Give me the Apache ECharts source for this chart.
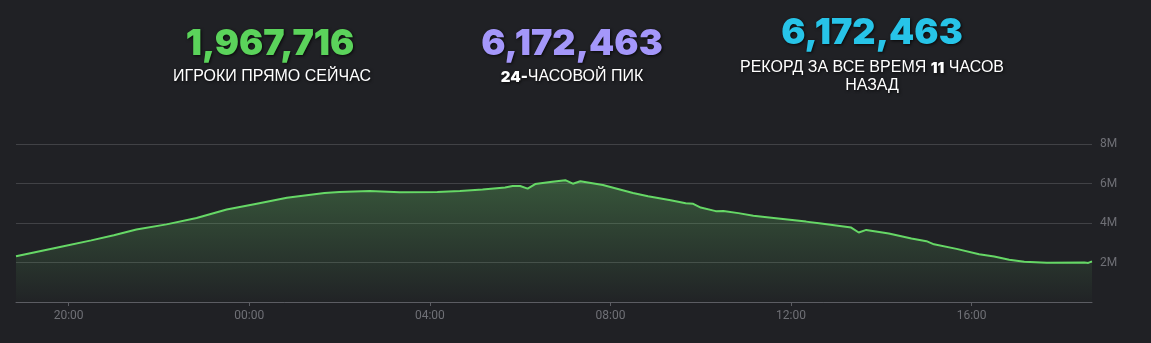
<!DOCTYPE html>
<html>
<head>
<meta charset="utf-8">
<script src="https://cdn.jsdelivr.net/npm/echarts@6/dist/echarts.min.js"></script>
<style>
html,body{margin:0;padding:0;background:#202125;}
#chart{width:1151px;height:343px;}
</style>
</head>
<body>
<div id="chart"></div>
<script>
// ---- data ----
const times = ["18:50","19:20","19:50","20:30","21:00","21:30","22:10","22:50","23:30","00:10","00:50","01:40","02:00","02:40","03:20","04:10","04:40","05:10","05:40","05:50","06:00","06:10","06:20","06:40","07:00","07:10","07:20","07:50","08:10","08:30","08:50","09:20","09:40","09:50","10:00","10:20","10:30","10:50","11:10","11:40","12:20","12:40","13:20","13:30","13:40","14:10","14:40","15:00","15:10","15:40","16:10","16:30","16:50","17:10","17:40","18:30","18:35","18:40"];
const players = [2.32,2.56,2.80,3.12,3.38,3.67,3.93,4.25,4.68,4.98,5.28,5.52,5.57,5.62,5.56,5.57,5.62,5.70,5.80,5.87,5.87,5.74,5.97,6.08,6.17,5.99,6.11,5.92,5.72,5.52,5.35,5.15,5.00,4.97,4.78,4.60,4.61,4.50,4.37,4.24,4.07,3.97,3.77,3.52,3.65,3.47,3.22,3.08,2.92,2.69,2.42,2.30,2.14,2.04,1.99,2.00,1.98,2.06];
const xTickHours = [20,24,28,32,36,40];
const stats = {
  now: "1,967,716",
  peak24: "6,172,463",
  record: "6,172,463"
};
const labelNow = "ИГРОКИ ПРЯМО СЕЙЧАС";
const label24a = "24-", label24b = "ЧАСОВОЙ ПИК";
const labelRecA = "РЕКОРД ЗА ВСЕ ВРЕМЯ ", labelRecN = "11", labelRecB = " ЧАСОВ", labelRec2 = "НАЗАД";

// ---- build ----
let offset = 0, prev = -1;
const seriesData = times.map((t, i) => {
  const [H, M] = t.split(':').map(Number);
  let h = H + M / 60 + offset;
  if (h < prev) { offset = 24; h += 24; }
  prev = h;
  return [h, players[i]];
});
function fmtHour(v) {
  const h = ((Math.round(v) % 24) + 24) % 24;
  return (h < 10 ? '0' : '') + h + ':00';
}
const shadow = {textShadowColor:'rgba(0,0,0,0.75)', textShadowBlur:3, textShadowOffsetX:1, textShadowOffsetY:1};
const bigFont = (c) => Object.assign({fill:c, fontFamily:'Inter', fontWeight:900, fontSize:36, align:'center', verticalAlign:'middle'}, shadow);
const smallFont = Object.assign({fill:'#ffffff', fontFamily:'Liberation Sans, Arial', fontSize:16, align:'center', verticalAlign:'middle'}, shadow);
const boldRich = Object.assign({fontFamily:'Inter', fontWeight:900, fontSize:15, fill:'#ffffff'}, shadow);

const chart = echarts.init(document.getElementById('chart'), null, {renderer:'canvas'});
chart.setOption({
  backgroundColor:'#202125',
  animation:false,
  grid:{left:16, right:59, top:144, bottom:41, containLabel:false},
  xAxis:{
    type:'value', min:'dataMin', max:'dataMax',
    axisLine:{show:true, lineStyle:{color:'#5c5d63', width:1}},
    axisTick:{show:true, length:4, lineStyle:{color:'#5c5d63'}, customValues:xTickHours},
    axisLabel:{color:'#6f7076', fontSize:12, fontFamily:'Roboto, Arial', margin:8, customValues:xTickHours, formatter:fmtHour},
    splitLine:{show:false}
  },
  yAxis:{
    type:'value', position:'right', min:0, max:8, interval:2,
    axisLine:{show:false}, axisTick:{show:false},
    axisLabel:{color:'#6f7076', fontSize:12, fontFamily:'Roboto, Arial', margin:8, formatter:(v)=> v===0 ? '' : v+'M'},
    splitLine:{show:true, lineStyle:{color:'#414246', width:1}}
  },
  series:[{
    type:'line', data:seriesData, showSymbol:false, smooth:false,
    lineStyle:{color:'#66d866', width:2},
    areaStyle:{color:new echarts.graphic.LinearGradient(0,0,0,1,[
      {offset:0, color:'rgba(105,200,105,0.45)'},
      {offset:1, color:'rgba(105,200,105,0.02)'}
    ])}
  }],
  graphic:[
    {type:'text', x:270, y:44, style:Object.assign({text:stats.now}, bigFont('#5bd35b'))},
    {type:'text', x:272, y:77, style:Object.assign({text:labelNow}, smallFont)},
    {type:'text', x:572, y:44, style:Object.assign({text:stats.peak24}, bigFont('#a497fa'))},
    {type:'text', x:572, y:77, style:Object.assign({
      text:'{b|'+label24a+'}'+label24b, rich:{b:boldRich}
    }, smallFont)},
    {type:'text', x:872, y:33, style:Object.assign({text:stats.record}, bigFont('#27c4e8'))},
    {type:'text', x:872, y:68, style:Object.assign({
      text:labelRecA+'{b|'+labelRecN+'}'+labelRecB, rich:{b:boldRich}
    }, smallFont)},
    {type:'text', x:872, y:86, style:Object.assign({text:labelRec2}, smallFont)}
  ]
});
</script>
</body>
</html>
